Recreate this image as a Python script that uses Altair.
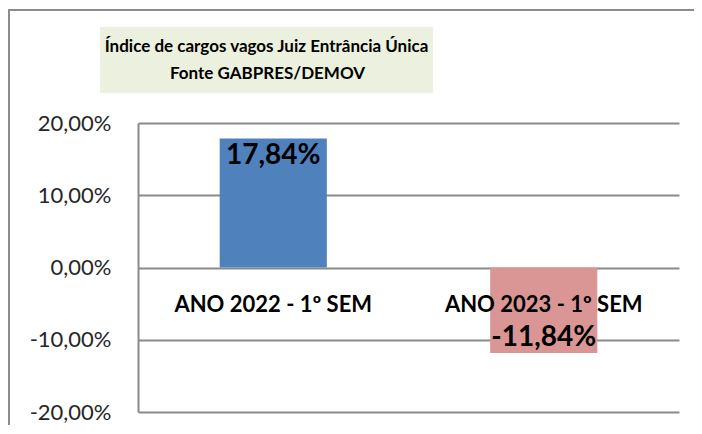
import altair as alt
import pandas as pd

# ---- data ----
categories = ["ANO 2022 - 1º SEM", "ANO 2023 - 1º SEM"]
values = [0.1784, -0.1184]
value_labels = ["17,84%", "-11,84%"]
bar_colors = ["#4F81BD", "#D99694"]
title_lines = ["Índice de cargos vagos  Juiz Entrância Única", "Fonte GABPRES/DEMOV"]
y_ticks = [-0.2, -0.1, 0.0, 0.1, 0.2]

df = pd.DataFrame({"cat": categories, "val": values, "lbl": value_labels})

W, H = 541, 289
FONT = "Lato"
GRID = "#8a8a8a"

x_enc = alt.X("cat:N", sort=categories, axis=None,
              scale=alt.Scale(paddingInner=0.604, paddingOuter=0.302))
y_scale = alt.Scale(domain=[-0.2, 0.2], nice=False, zero=False)

base = alt.Chart(df)

bars = base.mark_bar().encode(
    x=x_enc,
    y=alt.Y("val:Q", scale=y_scale, title=None,
            axis=alt.Axis(values=y_ticks, ticks=False, grid=True,
                          gridColor=GRID, gridWidth=2, gridOpacity=1,
                          domainColor=GRID, domainWidth=2,
                          labelFont=FONT, labelFontSize=22, labelColor="#262626",
                          labelPadding=27,
                          labelExpr="replace((datum.value < 0 ? '-' : '') + format(abs(datum.value), '.2%'), '.', ',')")),
    color=alt.Color("cat:N", scale=alt.Scale(domain=categories, range=bar_colors), legend=None),
)

cat_labels = base.mark_text(font=FONT, fontSize=22, fontWeight="bold", color="#000000",
                            baseline="middle", dy=37).encode(
    x=x_enc,
    y=alt.datum(0),
    text="cat:N",
)

pos_labels = base.transform_filter("datum.val >= 0").mark_text(
    font=FONT, fontSize=28, fontWeight="bold", color="#000000",
    baseline="middle", dy=17).encode(
    x=x_enc, y=alt.Y("val:Q", scale=y_scale), text="lbl:N")

neg_labels = base.transform_filter("datum.val < 0").mark_text(
    font=FONT, fontSize=28, fontWeight="bold", color="#000000",
    baseline="middle", dy=-15).encode(
    x=x_enc, y=alt.Y("val:Q", scale=y_scale), text="lbl:N")

one = alt.Data(values=[{}])

outer_border = alt.Chart(one).mark_rect(fill=None, stroke="#8c8c8c", strokeWidth=2).encode(
    x=alt.value(-129), x2=alt.value(W + 40), y=alt.value(-113), y2=alt.value(H + 40))

title_box = alt.Chart(one).mark_rect(fill="#EBF1DE").encode(
    x=alt.value(-38), x2=alt.value(295), y=alt.value(-96), y2=alt.value(-30))

title1 = alt.Chart(one).mark_text(text=title_lines[0], font=FONT, fontSize=17, fontWeight="bold",
                                  color="#000000", align="center", baseline="middle").encode(
    x=alt.value(128.5), y=alt.value(-76))
title2 = alt.Chart(one).mark_text(text=title_lines[1], font=FONT, fontSize=17, fontWeight="bold",
                                  color="#000000", align="center", baseline="middle").encode(
    x=alt.value(129.5), y=alt.value(-49))

chart = alt.layer(outer_border, title_box, title1, title2, bars, cat_labels, pos_labels, neg_labels).properties(
    width=W, height=H,
    autosize=alt.AutoSizeParams(type="none"),
    padding={"left": 130, "top": 115, "right": 15, "bottom": 13},
    background="white",
).configure_view(stroke=None)

chart.save("out.html", embed_options={"renderer": "svg", "actions": False})
